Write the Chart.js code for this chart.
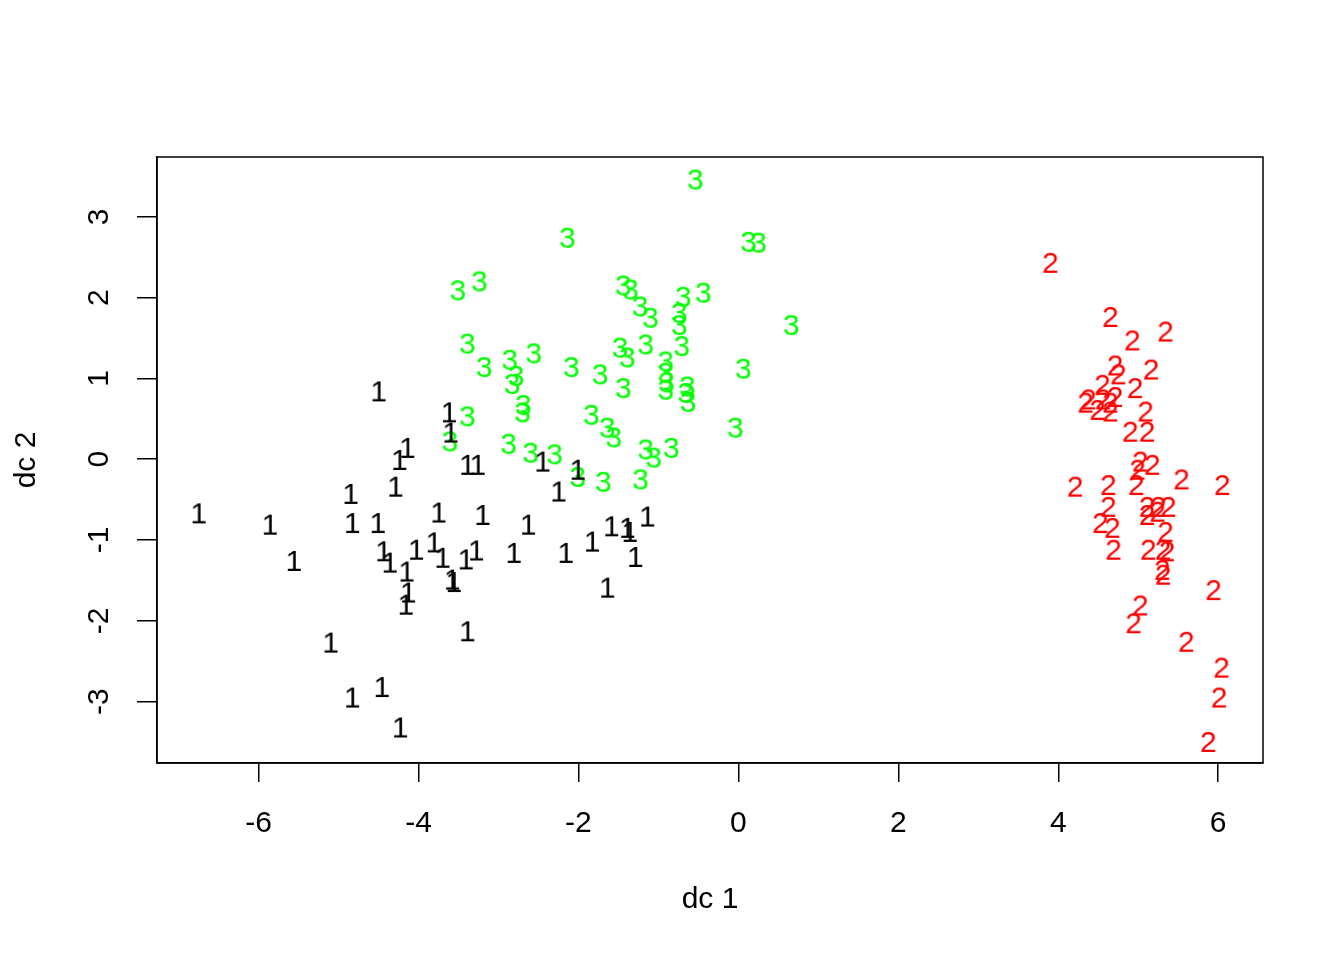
<!DOCTYPE html>
<html><head><meta charset="utf-8">
<script src="https://cdn.jsdelivr.net/npm/chart.js@4"></script>
<style>html,body{margin:0;padding:0;background:#fff;}#wrap{width:1344px;height:960px;}</style>
</head><body><div id="wrap"><canvas id="c" width="1344" height="960"></canvas></div>
<script>
// ---- data ----
const class1X = [-6.75,-5.86,-5.56,-4.50,-4.85,-4.83,-4.51,-4.29,-4.24,-4.14,-3.62,-3.60,-3.39,-3.26,-2.45,-2.01,-2.25,-3.75,-3.20,-2.63,-1.59,-1.39,-1.36,-1.14,-1.83,-1.29,-2.16,-2.81,-3.28,-3.41,-3.81,-4.03,-3.70,-3.58,-3.56,-4.44,-4.36,-4.15,-4.13,-4.16,-5.10,-4.83,-4.46,-4.23,-3.39,-1.64];
const class1Y = [-0.67,-0.81,-1.26,0.84,-0.43,-0.79,-0.79,-0.34,-0.01,0.14,0.58,0.33,-0.07,-0.07,-0.03,-0.13,-0.40,-0.66,-0.69,-0.81,-0.83,-0.85,-0.90,-0.71,-1.02,-1.21,-1.16,-1.16,-1.13,-1.24,-1.03,-1.12,-1.22,-1.49,-1.52,-1.14,-1.28,-1.39,-1.65,-1.80,-2.27,-2.95,-2.82,-3.32,-2.13,-1.59];
const class2X = [3.90,4.65,4.925,5.34,4.71,5.16,4.75,4.55,4.96,4.375,4.56,4.71,4.34,4.49,4.65,4.65,5.09,4.90,5.11,5.025,5.175,4.99,4.21,4.625,4.975,5.54,6.05,4.625,5.11,5.25,5.375,5.11,5.24,4.525,4.675,5.34,4.69,5.125,5.31,5.36,5.30,5.31,5.94,5.025,4.94,5.60,6.04,6.01,5.875];
const class2Y = [2.43,1.76,1.47,1.58,1.16,1.11,1.05,0.92,0.88,0.74,0.74,0.77,0.70,0.61,0.59,0.70,0.59,0.34,0.34,-0.03,-0.07,-0.13,-0.34,-0.32,-0.32,-0.25,-0.32,-0.59,-0.59,-0.59,-0.59,-0.69,-0.65,-0.79,-0.85,-0.90,-1.12,-1.12,-1.12,-1.14,-1.37,-1.43,-1.62,-1.81,-2.03,-2.26,-2.58,-2.95,-3.50];
const class3X = [-0.54,-2.14,0.125,0.25,-3.24,-3.51,-1.44,-1.35,-1.23,-1.10,-0.69,-0.44,-0.74,-0.74,-0.71,0.66,-3.39,-3.18,-2.86,-2.56,-2.78,-2.83,-2.09,-1.73,-1.48,-1.39,-1.16,-1.44,-0.91,-0.91,-0.90,-0.91,-0.64,-0.66,-0.63,0.06,-0.04,-2.69,-2.70,-3.39,-3.61,-1.84,-1.64,-1.56,-2.875,-2.60,-2.30,-2.01,-1.69,-1.225,-1.16,-1.06,-0.84];
const class3Y = [3.46,2.74,2.69,2.68,2.20,2.09,2.15,2.10,1.89,1.75,2.01,2.06,1.81,1.66,1.40,1.66,1.43,1.14,1.23,1.31,1.03,0.93,1.14,1.05,1.38,1.26,1.42,0.88,1.21,1.07,0.95,0.86,0.90,0.82,0.71,1.12,0.39,0.67,0.58,0.53,0.22,0.55,0.39,0.27,0.19,0.08,0.06,-0.22,-0.28,-0.25,0.12,0.02,0.14];
const classLabels = ['1','2','3'];
const xTicks = [-6,-4,-2,0,2,4,6];
const yTicks = [-3,-2,-1,0,1,2,3];
const xTitle = 'dc 1';
const yTitle = 'dc 2';

// ---- styles ----
const classColors = ['#000000','#FF0000','#00FF00'];
const FONT = '"Liberation Sans", Arial, Helvetica, sans-serif';
const FS = 30;

function glyph(text, color) {
  const c = document.createElement('canvas');
  c.width = 48; c.height = 48;
  const g = c.getContext('2d');
  g.font = FS + 'px ' + FONT;
  g.fillStyle = color; g.textAlign = 'center'; g.textBaseline = 'alphabetic';
  const m = g.measureText(text);
  const asc = m.actualBoundingBoxAscent, desc = m.actualBoundingBoxDescent;
  g.fillText(text, 24, 24 + (asc - desc) / 2);
  return c;
}
function pts(xs, ys) { return xs.map((x, i) => ({x: x, y: ys[i]})); }

const groups = [[class1X, class1Y], [class2X, class2Y], [class3X, class3Y]];
const datasets = groups.map((g, i) => ({
  label: classLabels[i],
  data: pts(g[0], g[1]),
  pointStyle: glyph(classLabels[i], classColors[i]),
  pointRadius: 10,
  backgroundColor: classColors[i],
  borderColor: classColors[i]
}));

const boxPlugin = {
  id: 'box',
  afterDraw(chart) {
    const a = chart.chartArea, ctx = chart.ctx;
    ctx.save();
    ctx.strokeStyle = '#000'; ctx.lineWidth = 1.5;
    ctx.strokeRect(a.left, a.top, a.right - a.left, a.bottom - a.top);
    ctx.restore();
  }
};

new Chart(document.getElementById('c'), {
  type: 'scatter',
  data: { datasets: datasets },
  plugins: [boxPlugin],
  options: {
    responsive: false,
    devicePixelRatio: 1,
    animation: false,
    layout: { padding: { top: 157, right: 81, left: 0, bottom: 0 } },
    plugins: { legend: { display: false }, tooltip: { enabled: false } },
    scales: {
      x: {
        type: 'linear', min: -7.27, max: 6.56,
        afterFit: s => { s.height = 197; },
        afterBuildTicks: s => { s.ticks = xTicks.map(v => ({value: v})); },
        grid: { drawOnChartArea: false, drawTicks: true, tickLength: 19, color: '#000', lineWidth: 1.5 },
        border: { display: true, color: '#000', width: 1.5 },
        ticks: { color: '#000', font: { family: FONT, size: FS }, padding: 24, maxRotation: 0, minRotation: 0, callback: v => String(v) },
        title: { display: true, text: xTitle, color: '#000', font: { family: FONT, size: FS }, padding: { top: 0, bottom: 42 } }
      },
      y: {
        type: 'linear', min: -3.76, max: 3.74,
        afterFit: s => { s.width = 157; },
        afterBuildTicks: s => { s.ticks = yTicks.map(v => ({value: v})); },
        grid: { drawOnChartArea: false, drawTicks: true, tickLength: 20, color: '#000', lineWidth: 1.5 },
        border: { display: true, color: '#000', width: 1.5 },
        ticks: { color: '#000', font: { family: FONT, size: FS }, padding: 24, minRotation: 90, maxRotation: 90, crossAlign: 'center', callback: v => String(v) },
        title: { display: true, text: yTitle, color: '#000', font: { family: FONT, size: FS }, padding: { top: 9, bottom: 0 } }
      }
    }
  }
});
</script>
</body></html>
